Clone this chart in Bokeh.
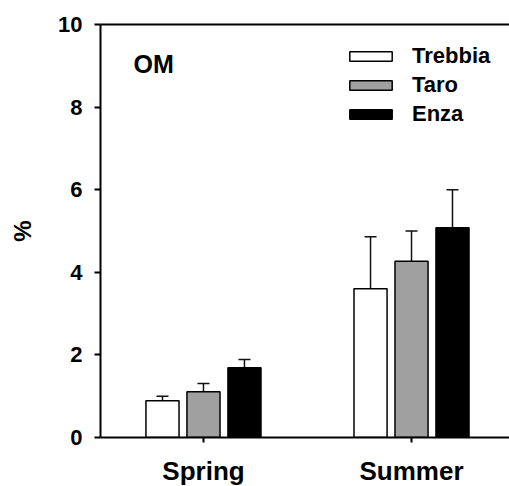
from bokeh.plotting import figure
from bokeh.models import (ColumnDataSource, Range1d, FixedTicker, LinearAxis, Whisker,
                          TeeHead, Legend, LegendItem, Label)
from bokeh.embed import file_html
from bokeh.resources import INLINE

# ---- data ----
seasons = ["Spring", "Summer"]
rivers = ["Trebbia", "Taro", "Enza"]
trebbia = [0.89, 3.60]
trebbia_err = [0.11, 1.26]
taro = [1.11, 4.27]
taro_err = [0.20, 0.73]
enza = [1.69, 5.08]
enza_err = [0.20, 0.92]
y_ticks = [0, 2, 4, 6, 8, 10]

FONT = "Liberation Sans"
fills = ["#ffffff", "#a0a0a0", "#000000"]
offsets = [-0.197, 0.0, 0.197]
bar_w = 0.159
series = [(trebbia, trebbia_err), (taro, taro_err), (enza, enza_err)]

p = figure(frame_width=409, frame_height=413, output_backend="svg", toolbar_location=None,
           x_range=Range1d(0.505, 2.471), y_range=Range1d(0, 10),
           min_border_left=100, min_border_right=0, min_border_top=24, min_border_bottom=49)
p.outline_line_color = None
p.xgrid.visible = False
p.ygrid.visible = False
p.background_fill_color = "white"

base_x = list(range(1, len(seasons) + 1))
renderers = []
for (vals, errs), off, col in zip(series, offsets, fills):
    src = ColumnDataSource(dict(x=[b + off for b in base_x], top=vals,
                                up=[v + e for v, e in zip(vals, errs)]))
    r = p.vbar(x="x", top="top", width=bar_w, bottom=0, source=src,
               fill_color=col, line_color="black", line_width=1.5)
    renderers.append(r)
    w = Whisker(base="x", lower="top", upper="up", source=src, dimension="height",
                line_color="#111111", line_width=1.5,
                upper_head=TeeHead(size=12, line_color="#111111", line_width=1.5),
                lower_head=None)
    p.add_layout(w)

# axes
xa = p.xaxis[0]
xa.ticker = FixedTicker(ticks=base_x)
xa.major_label_overrides = {b: s for b, s in zip(base_x, seasons)}
xa.axis_line_width = 2
xa.major_tick_line_width = 2
xa.major_tick_out = 5
xa.major_tick_in = 0
xa.minor_tick_line_color = None
xa.major_label_text_font = FONT
xa.major_label_text_font_style = "bold"
xa.major_label_text_font_size = "26px"
xa.major_label_text_color = "black"
xa.major_label_standoff = 13

ya = p.yaxis[0]
ya.ticker = FixedTicker(ticks=y_ticks)
ya.axis_line_width = 2
ya.major_tick_line_width = 2
ya.major_tick_out = 6
ya.major_tick_in = 0
ya.minor_tick_line_color = None
ya.major_label_text_font = FONT
ya.major_label_text_font_style = "bold"
ya.major_label_text_font_size = "22px"
ya.major_label_text_color = "black"
ya.major_label_standoff = 12
ya.axis_label = "%"
ya.axis_label_text_font = FONT
ya.axis_label_text_font_style = "bold"
ya.axis_label_text_font_size = "24px"
ya.axis_label_text_color = "black"
ya.axis_label_standoff = 19

top_axis = LinearAxis(ticker=FixedTicker(ticks=[]), axis_line_width=2,
                      major_tick_line_color=None, minor_tick_line_color=None,
                      major_label_text_font_size="0px")
p.add_layout(top_axis, "above")

# legend
legend = Legend(items=[LegendItem(label=n, renderers=[r]) for n, r in zip(rivers, renderers)],
                location=(244, 310), glyph_width=53, glyph_height=12,
                label_text_font=FONT, label_text_font_style="bold",
                label_text_font_size="22px", label_text_color="black",
                label_standoff=15, spacing=3,
                padding=0, margin=0, border_line_color=None, background_fill_alpha=0)
p.add_layout(legend)

p.add_layout(Label(x=33, y=374, x_units="screen", y_units="screen", text="OM",
                   text_font=FONT, text_font_style="bold", text_font_size="25px",
                   text_color="black", text_baseline="alphabetic"))

open("out.html", "w").write(file_html(p, INLINE))
